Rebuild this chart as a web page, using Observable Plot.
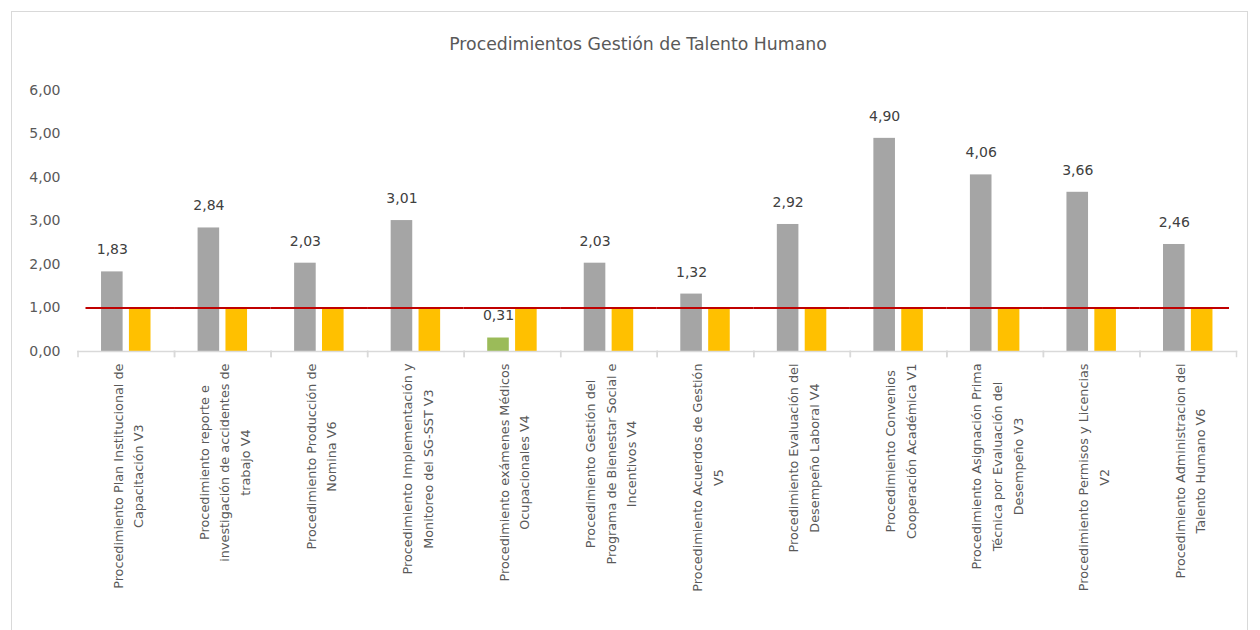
<!DOCTYPE html>
<html><head><meta charset="utf-8">
<script src="https://cdn.jsdelivr.net/npm/d3@7"></script>
<script src="https://cdn.jsdelivr.net/npm/@observablehq/plot@0.6"></script>
<style>
body{margin:0;width:1260px;height:630px;overflow:hidden;position:relative;background:#fff;font-family:"DejaVu Sans",sans-serif}
#frame{position:absolute;left:11px;top:11px;width:1237px;height:650px;border:1px solid #d9d9d9;box-sizing:border-box}
#title{position:absolute;left:0;top:33px;width:1276px;text-align:center;font-size:17.3px;line-height:22px;color:#595959}
#chart{position:absolute;left:0;top:70px}
</style></head><body>
<div id="frame"></div>
<div id="title">Procedimientos Gestión de Talento Humano</div>
<div id="chart"></div>
<script>
const categories = [
  "Procedimiento Plan Institucional de\nCapacitación V3",
  "Procedimiento reporte e\ninvestigación de accidentes de\ntrabajo V4",
  "Procedimiento Producción de\nNomina V6",
  "Procedimiento Implementación y\nMonitoreo del SG-SST V3",
  "Procedimiento exámenes Médicos\nOcupacionales V4",
  "Procedimiento Gestión del\nPrograma de Bienestar Social e\nIncentivos V4",
  "Procedimiento Acuerdos de Gestión\nV5",
  "Procedimiento Evaluación del\nDesempeño Laboral V4",
  "Procedimiento Convenios\nCooperación Académica V1",
  "Procedimiento Asignación Prima\nTécnica por Evaluación del\nDesempeño V3",
  "Procedimiento Permisos y Licencias\nV2",
  "Procedimiento Administracion del\nTalento Humano V6"
];
const avance = [1.83, 2.84, 2.03, 3.01, 0.31, 2.03, 1.32, 2.92, 4.90, 4.06, 3.66, 2.46];
const meta   = [1.00, 1.00, 1.00, 1.00, 1.00, 1.00, 1.00, 1.00, 1.00, 1.00, 1.00, 1.00];
const seriesNames = ["Avance", "Meta"];
const yTicks = [0, 1, 2, 3, 4, 5, 6];
const target = 1;

const rows = categories.flatMap((c, i) => [
  {cat: c, serie: seriesNames[0], value: avance[i]},
  {cat: c, serie: seriesNames[1], value: meta[i]}
]);
const fmt = v => d3.format(".2f")(v).replace(".", ",");

const W = 1260, H = 560, mt = 20, mb = 279, ml = 77.5, mr = 24;
const plotH = H - mt - mb;
const grid = "#d9d9d9";
const red = {stroke: "#c00000", strokeWidth: 2};
const last = categories.length - 1;
const ruleRows = categories.map((c, i) => ({cat: c, i}));

const chart = Plot.plot({
  width: W, height: H,
  marginTop: mt, marginBottom: mb, marginLeft: ml, marginRight: mr,
  style: {fontFamily: "'DejaVu Sans', sans-serif", background: "transparent", overflow: "visible"},
  fx: {domain: categories, padding: 0, round: false, axis: null},
  x: {domain: seriesNames, paddingInner: 0.226, paddingOuter: 0.844, round: false, axis: null},
  y: {domain: [0, 6], axis: null},
  marks: [
    Plot.axisY(yTicks, {tickSize: 0, tickPadding: 17.5, tickFormat: fmt, fontSize: 14, fill: "#595959", label: null}),
    Plot.barY(rows, {
      fx: "cat", x: "serie", y: "value",
      fill: d => d.serie === "Meta" ? "#ffc000" : (d.value < target ? "#9bbb59" : "#a5a5a5")
    }),
    Plot.frame({anchor: "bottom", stroke: grid, strokeWidth: 1.5}),
    Plot.frame({anchor: "left", stroke: grid, strokeWidth: 1.5, insetTop: plotH, insetBottom: -5}),
    Plot.frame({anchor: "right", stroke: grid, strokeWidth: 1.5, insetTop: plotH, insetBottom: -5}),
    Plot.ruleY(ruleRows.filter(d => d.i === 0), {fx: "cat", y: () => target, ...red, insetLeft: 8}),
    Plot.ruleY(ruleRows.filter(d => d.i > 0 && d.i < last), {fx: "cat", y: () => target, ...red}),
    Plot.ruleY(ruleRows.filter(d => d.i === last), {fx: "cat", y: () => target, ...red, insetRight: 7}),
    Plot.text(rows.filter(d => d.serie === "Avance"), {
      fx: "cat", x: "serie", y: "value", text: d => fmt(d.value),
      dy: -22, fontSize: 14, fill: "#404040"
    }),
    Plot.text(categories, {
      fx: d => d, text: d => d, frameAnchor: "bottom", dy: 12, rotate: -90,
      textAnchor: "middle", lineAnchor: "middle", lineHeight: 1.62,
      fontSize: 12.8, fill: "#595959"
    })
  ]
});
document.getElementById("chart").appendChild(chart);

// center each rotated label block so that its longest line starts at the anchor
chart.querySelectorAll("text[transform*='rotate(-90)']").forEach(t => {
  const spans = t.querySelectorAll("tspan");
  let w = 0;
  if (spans.length) spans.forEach(s => { w = Math.max(w, s.getComputedTextLength()); });
  else w = t.getComputedTextLength();
  t.setAttribute("transform", t.getAttribute("transform") + ` translate(${-w / 2},0)`);
});
</script>
</body></html>
